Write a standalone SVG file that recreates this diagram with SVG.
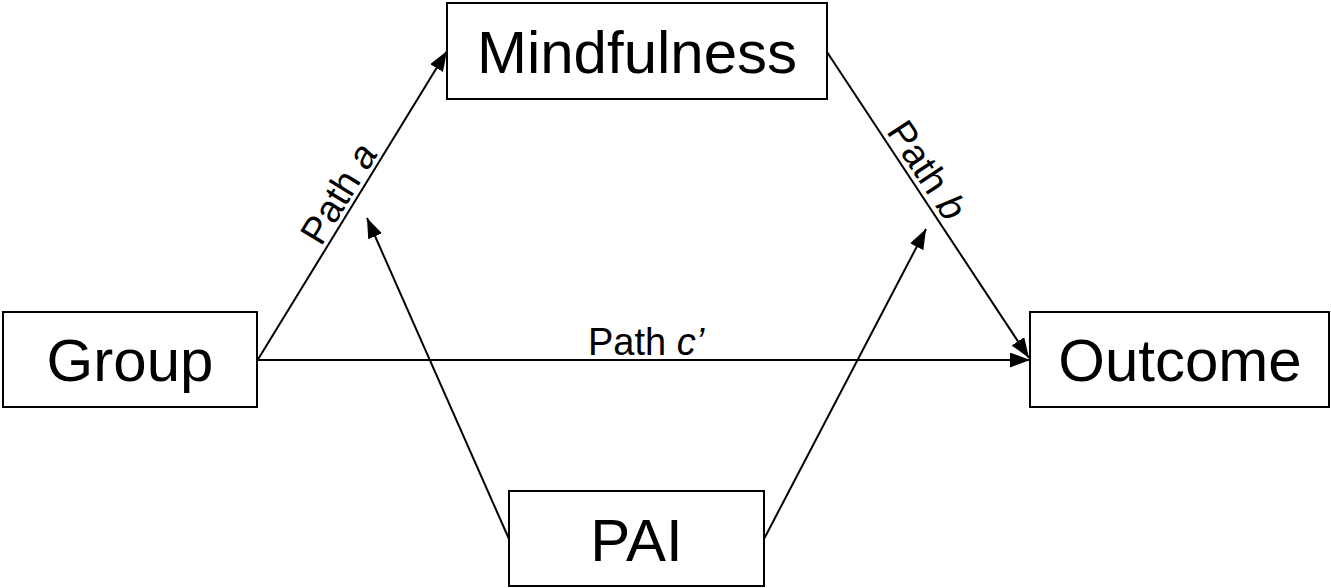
<svg xmlns="http://www.w3.org/2000/svg" width="1331" height="588" viewBox="0 0 1331 588">
<style>
.box{fill:#fff;stroke:#000;stroke-width:2}
.big{font-family:"Liberation Sans",Arial,sans-serif;font-size:60px;fill:#000;text-anchor:middle}
.lbl{font-family:"Liberation Sans",Arial,sans-serif;font-size:38px;fill:#000;text-anchor:middle}
.edge{stroke:#000;stroke-width:2;fill:none;marker-end:url(#arr)}
</style>
<defs>
<marker id="arr" markerUnits="userSpaceOnUse" markerWidth="20" markerHeight="15" refX="20" refY="7.5" orient="auto">
<path d="M0,0 L20,7.5 L0,15 z" fill="#000"/>
</marker>
</defs>
<g id="connectors">
<line class="edge" x1="257" y1="361" x2="447" y2="51"/>
<line class="edge" x1="827" y1="52" x2="1029" y2="358"/>
<line class="edge" x1="257" y1="360" x2="1030" y2="360"/>
<line class="edge" x1="509" y1="539" x2="367" y2="218"/>
<line class="edge" x1="764" y1="539" x2="926" y2="229"/>
<text class="lbl" transform="translate(354,203) rotate(-58.5)" y="-5">Path <tspan font-style="italic">a</tspan></text>
<text class="lbl" transform="translate(912,180) rotate(56.4)" y="-5">Path <tspan font-style="italic">b</tspan></text>
<text class="lbl" x="646" y="355">Path <tspan font-style="italic">c’</tspan></text>
</g>
<g id="mindfulness">
<rect class="box" x="447" y="3" width="380" height="96"/>
<text class="big" x="637" y="72.5">Mindfulness</text>
</g>
<g id="group">
<rect class="box" x="3" y="312" width="254" height="95"/>
<text class="big" x="130" y="381">Group</text>
</g>
<g id="outcome">
<rect class="box" x="1030" y="312" width="299" height="95"/>
<text class="big" x="1180" y="381">Outcome</text>
</g>
<g id="pai">
<rect class="box" x="509" y="491" width="255" height="95"/>
<text class="big" x="636.5" y="560.5">PAI</text>
</g>
</svg>
